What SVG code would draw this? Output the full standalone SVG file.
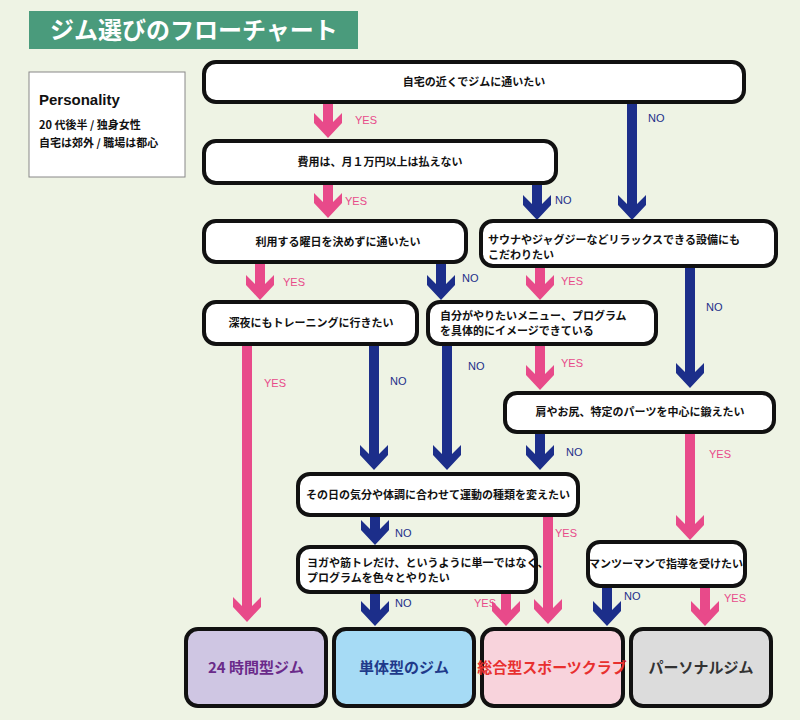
<svg xmlns="http://www.w3.org/2000/svg" xmlns:xlink="http://www.w3.org/1999/xlink" width="800" height="720" viewBox="0 0 800 720">
<style>
.q{fill:#fff;stroke:#111;stroke-width:4}
.t{font-family:"Noto Sans CJK JP","Liberation Sans",sans-serif;font-weight:bold;font-size:11px;fill:#111}
.c{text-anchor:middle}
.y{fill:#e84a8a}
.n{fill:#1c2e8a}
.ly{font-family:"Liberation Sans",sans-serif;font-size:11px;fill:#e84a8a}
.ln{font-family:"Liberation Sans",sans-serif;font-size:11px;fill:#1c2e8a}
.r{stroke:#111;stroke-width:4}
.rt{font-family:"Noto Sans CJK JP",sans-serif;font-weight:bold;font-size:15px;text-anchor:middle}
</style>
<defs>
<path id="h" d="M0,0 L-14,-15 L-14,-25 L0,-11 L14,-25 L14,-15 Z"/>
</defs>
<rect width="800" height="720" fill="#eef3e4"/>
<g id="title"><rect x="29" y="11" width="329" height="38" fill="#4a9b7c"/>
<text x="194" y="39" text-anchor="middle" font-family="Noto Sans CJK JP,sans-serif" font-weight="bold" font-size="24" fill="#fff">ジム選びのフローチャート</text></g>
<g id="personality"><rect x="29" y="72" width="156" height="105" fill="#fff" stroke="#888" stroke-width="1"/>
<text x="39" y="105" font-family="Liberation Sans,sans-serif" font-weight="bold" font-size="15" fill="#111">Personality</text>
<text x="39" y="129" class="t">20 代後半 / 独身女性</text>
<text x="39" y="147" class="t">自宅は郊外 / 職場は都心</text></g>
<g id="connectors">
<g class="y">
<rect x="323" y="102" width="10" height="26"/><use href="#h" x="328" y="138"/>
<rect x="323" y="183" width="10" height="25"/><use href="#h" x="328" y="218"/>
<rect x="255" y="262" width="10" height="28"/><use href="#h" x="260" y="300"/>
<rect x="535" y="266" width="10" height="24"/><use href="#h" x="540" y="300"/>
<rect x="242" y="344" width="10" height="268"/><use href="#h" x="247" y="622"/>
<rect x="535" y="344" width="10" height="36"/><use href="#h" x="540" y="390"/>
<rect x="685" y="432" width="10" height="98"/><use href="#h" x="690" y="540"/>
<rect x="543" y="515" width="10" height="99"/><use href="#h" x="548" y="624"/>
<rect x="501" y="592" width="10" height="24"/><use href="#h" x="506" y="626"/>
<rect x="700" y="586" width="10" height="30"/><use href="#h" x="705" y="626"/>
</g>
<g class="n">
<rect x="627" y="102" width="10" height="108"/><use href="#h" x="632" y="220"/>
<rect x="532" y="183" width="10" height="27"/><use href="#h" x="537" y="220"/>
<rect x="436" y="262" width="10" height="28"/><use href="#h" x="441" y="300"/>
<rect x="685" y="266" width="10" height="112"/><use href="#h" x="690" y="388"/>
<rect x="369" y="344" width="10" height="116"/><use href="#h" x="374" y="470"/>
<rect x="442" y="344" width="10" height="116"/><use href="#h" x="447" y="470"/>
<rect x="535" y="432" width="10" height="28"/><use href="#h" x="540" y="470"/>
<rect x="370" y="515" width="10" height="20"/><use href="#h" x="375" y="545"/>
<rect x="370" y="592" width="10" height="24"/><use href="#h" x="375" y="626"/>
<rect x="602" y="586" width="10" height="30"/><use href="#h" x="607" y="626"/>
</g>
<text class="ly" x="355" y="124">YES</text>
<text class="ly" x="345" y="205">YES</text>
<text class="ly" x="283" y="286">YES</text>
<text class="ly" x="561" y="285">YES</text>
<text class="ly" x="264" y="387">YES</text>
<text class="ly" x="561" y="367">YES</text>
<text class="ly" x="709" y="458">YES</text>
<text class="ly" x="555" y="537">YES</text>
<text class="ly" x="474" y="607">YES</text>
<text class="ly" x="724" y="602">YES</text>
<text class="ln" x="648" y="122">NO</text>
<text class="ln" x="555" y="204">NO</text>
<text class="ln" x="462" y="282">NO</text>
<text class="ln" x="706" y="311">NO</text>
<text class="ln" x="390" y="385">NO</text>
<text class="ln" x="468" y="370">NO</text>
<text class="ln" x="566" y="456">NO</text>
<text class="ln" x="395" y="537">NO</text>
<text class="ln" x="395" y="607">NO</text>
<text class="ln" x="624" y="600">NO</text>
</g>
<g id="q1"><rect class="q" x="204" y="62" width="540" height="40" rx="12"/><text class="t c" x="474" y="86">自宅の近くでジムに通いたい</text></g>
<g id="q2"><rect class="q" x="204" y="141" width="352" height="42" rx="12"/><text class="t c" x="380" y="166">費用は、月１万円以上は払えない</text></g>
<g id="q3"><rect class="q" x="204" y="221" width="262" height="41" rx="12"/><text class="t c" x="338" y="246">利用する曜日を決めずに通いたい</text></g>
<g id="q4"><rect class="q" x="481" y="221" width="295" height="45" rx="12"/><text class="t" x="488" y="244">サウナやジャグジーなどリラックスできる設備にも</text><text class="t" x="488" y="259">こだわりたい</text></g>
<g id="q5"><rect class="q" x="204" y="302" width="213" height="42" rx="12"/><text class="t c" x="311" y="327">深夜にもトレーニングに行きたい</text></g>
<g id="q6"><rect class="q" x="428" y="302" width="228" height="42" rx="12"/><text class="t" x="440" y="320">自分がやりたいメニュー、プログラム</text><text class="t" x="440" y="335">を具体的にイメージできている</text></g>
<g id="q7"><rect class="q" x="505" y="393" width="269" height="39" rx="12"/><text class="t c" x="640" y="416">肩やお尻、特定のパーツを中心に鍛えたい</text></g>
<g id="q8"><rect class="q" x="298" y="474" width="280" height="41" rx="12"/><text class="t c" x="438" y="499">その日の気分や体調に合わせて運動の種類を変えたい</text></g>
<g id="q9"><rect class="q" x="298" y="547" width="238" height="45" rx="12"/><text class="t" x="307" y="567">ヨガや筋トレだけ、というように単一ではなく、</text><text class="t" x="307" y="582">プログラムを色々とやりたい</text></g>
<g id="q10"><rect class="q" x="588" y="542" width="157" height="44" rx="12"/><text class="t c" x="666" y="568">マンツーマンで指導を受けたい</text></g>
<g id="r1"><rect class="r" x="186" y="629" width="140" height="77" rx="12" fill="#cfc6e3"/><text class="rt" x="256" y="673" fill="#6a2a8a">24 時間型ジム</text></g>
<g id="r2"><rect class="r" x="334" y="629" width="140" height="77" rx="12" fill="#a6dbf5"/><text class="rt" x="404" y="673" fill="#1f3a8a">単体型のジム</text></g>
<g id="r3"><rect class="r" x="482" y="629" width="141" height="77" rx="12" fill="#f8d3dc"/><text class="rt" x="552" y="673" fill="#e8302f">総合型スポーツクラブ</text></g>
<g id="r4"><rect class="r" x="631" y="629" width="140" height="77" rx="12" fill="#dcdcdc"/><text class="rt" x="701" y="673" fill="#333">パーソナルジム</text></g>
</svg>
